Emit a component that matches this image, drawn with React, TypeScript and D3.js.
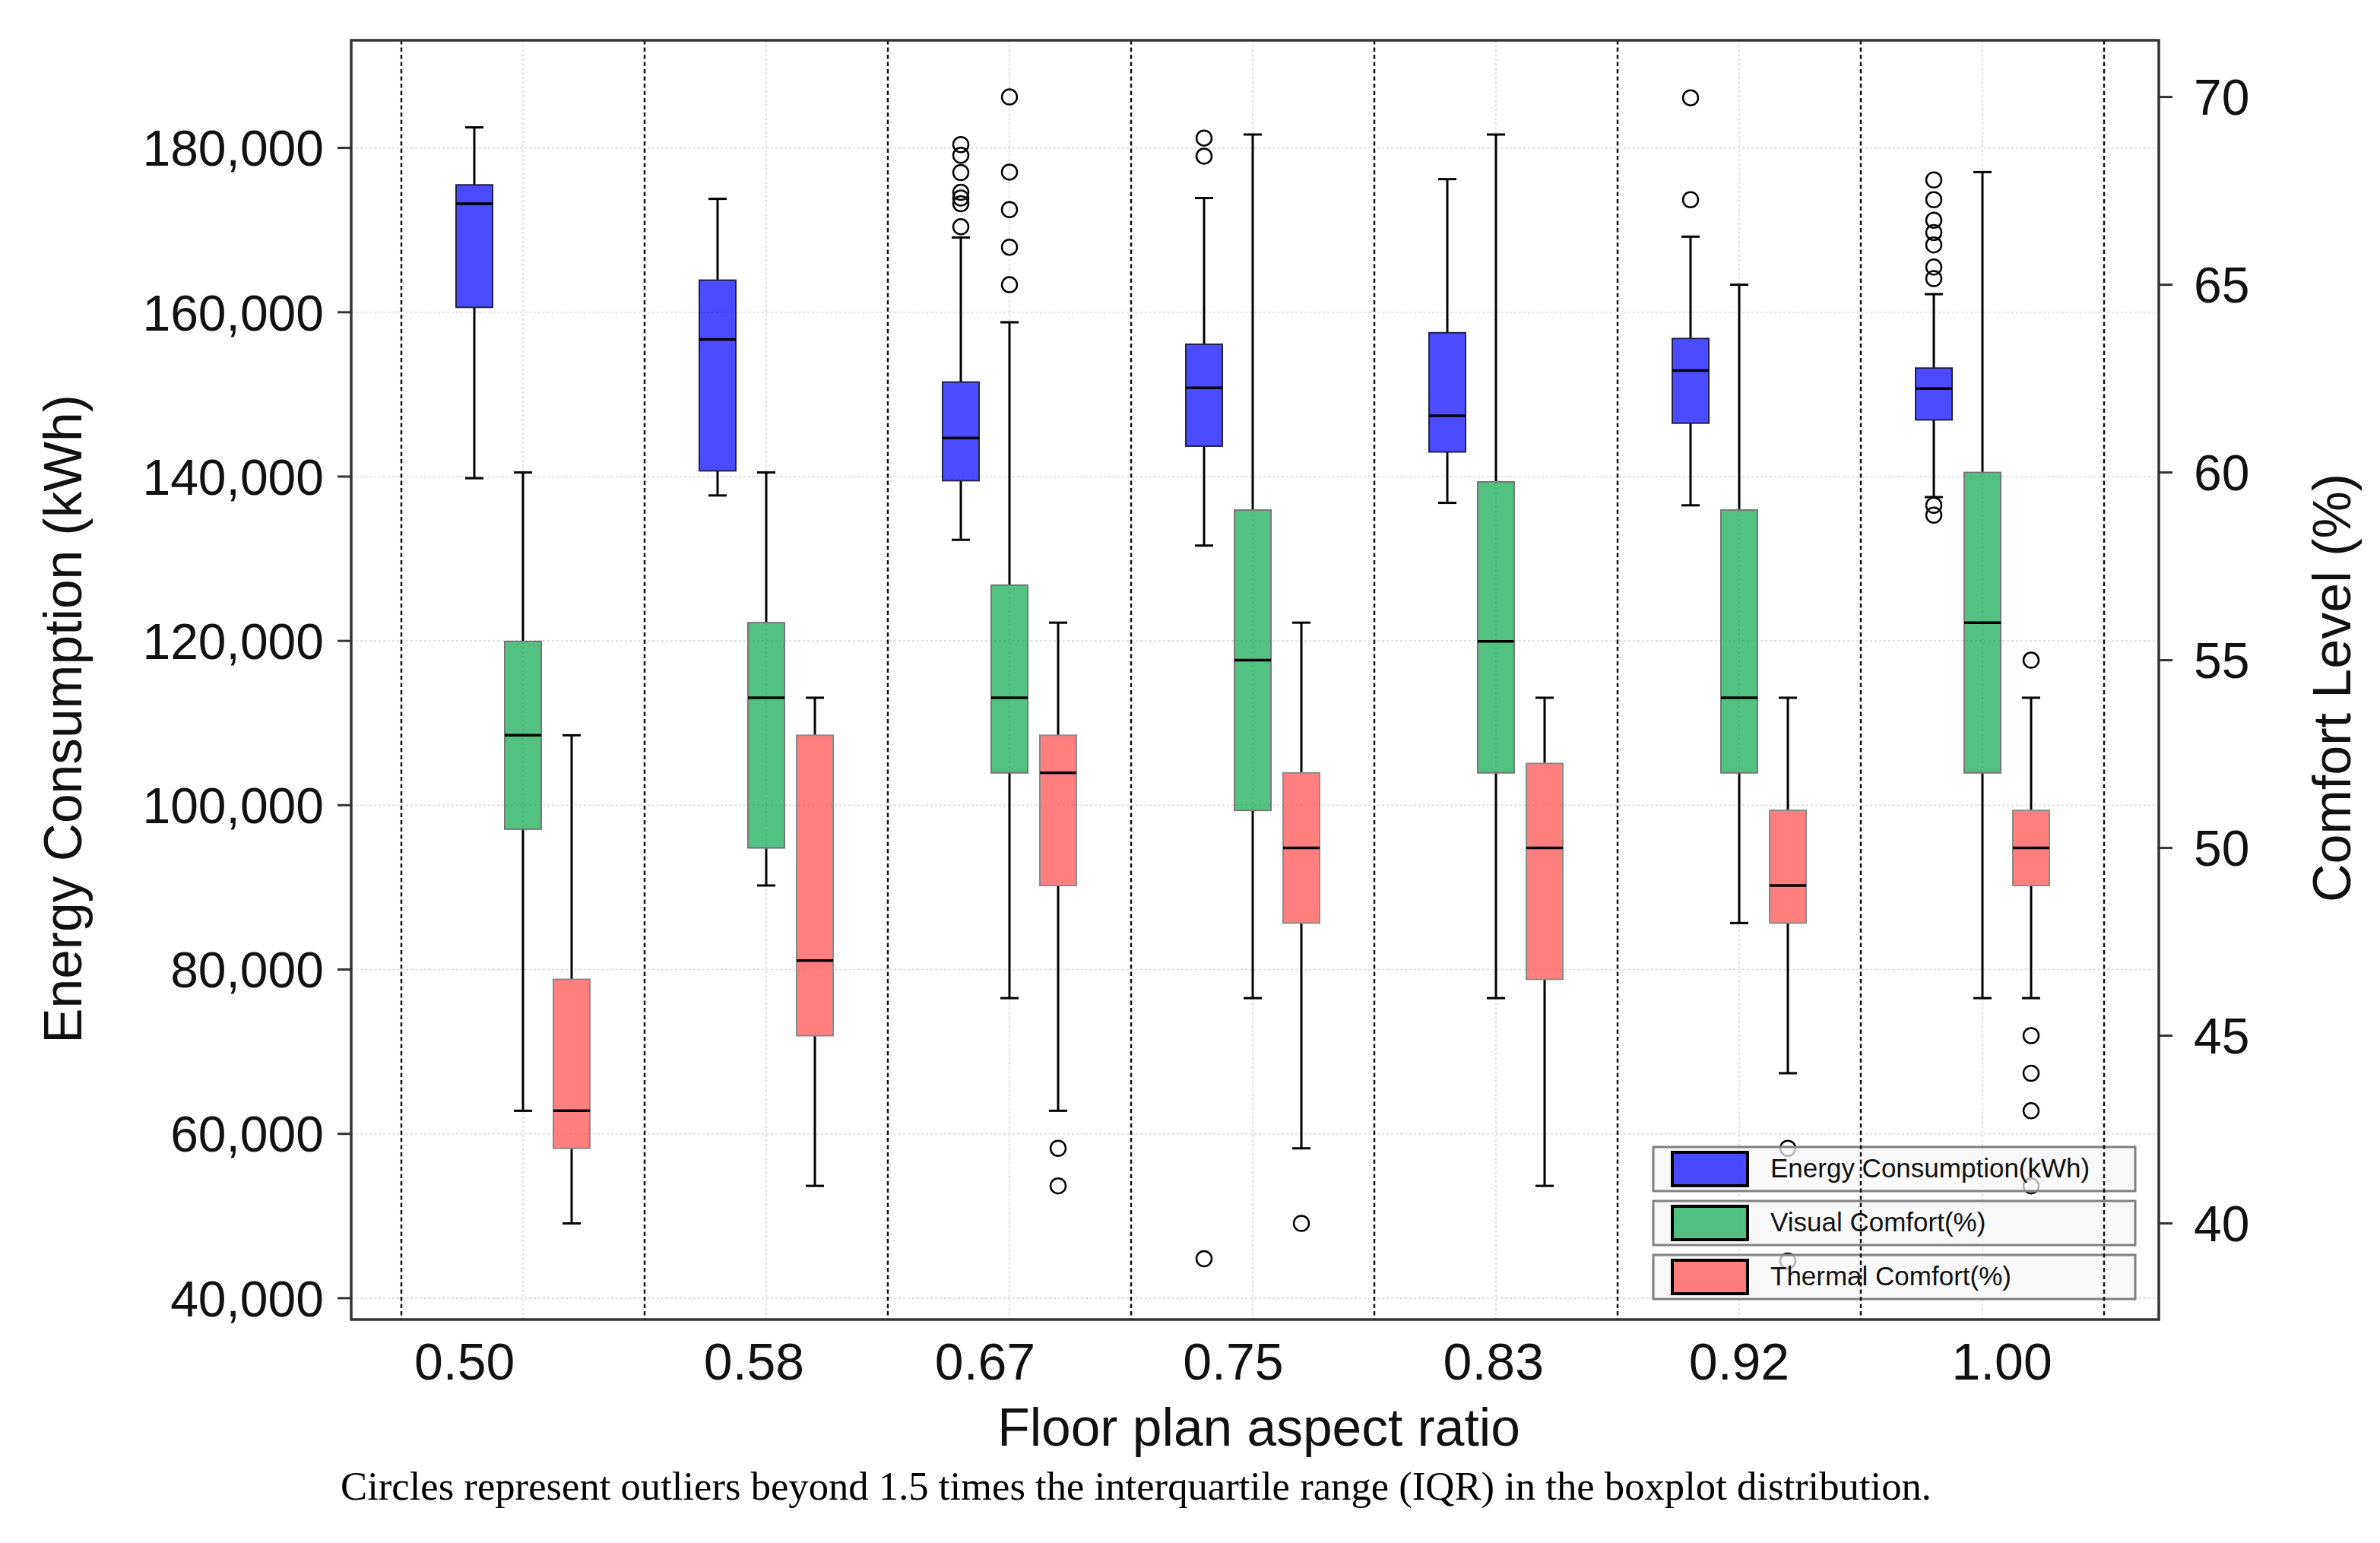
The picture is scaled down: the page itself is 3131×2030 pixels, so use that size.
import React, { useEffect } from 'react';
import * as d3 from 'd3';

// aspect ratios on the x axis
const ratios = ['0.50', '0.58', '0.67', '0.75', '0.83', '0.92', '1.00'];
// the tick labels in the original sit a bit off the group centres (in group units)
const tickLabelShift = [-0.24, -0.05, -0.1, -0.08, -0.01, 0, 0.08];

type Box = { min: number; q1: number; med: number; q3: number; max: number; out: number[] };

// Energy consumption (kWh), left axis
const energy: Box[] = [
  { min: 139800, q1: 160600, med: 173200, q3: 175500, max: 182500, out: [] },
  { min: 137700, q1: 140700, med: 156700, q3: 163900, max: 173800, out: [] },
  { min: 132300, q1: 139500, med: 144700, q3: 151500, max: 169100, out: [170400, 173200, 173900, 174600, 177000, 179100, 180400] },
  { min: 131600, q1: 143700, med: 150800, q3: 156100, max: 173900, out: [44800, 179000, 181200] },
  { min: 136800, q1: 143000, med: 147400, q3: 157500, max: 176200, out: [] },
  { min: 136500, q1: 146500, med: 152900, q3: 156800, max: 169200, out: [173700, 186100] },
  { min: 137500, q1: 146900, med: 150700, q3: 153200, max: 162200, out: [135300, 136500, 164100, 165500, 168200, 169700, 171200, 173700, 176100] },
];

// Visual comfort (%), right axis
const visual: Box[] = [
  { min: 43, q1: 50.5, med: 53, q3: 55.5, max: 60, out: [] },
  { min: 49, q1: 50, med: 54, q3: 56, max: 60, out: [] },
  { min: 46, q1: 52, med: 54, q3: 57, max: 64, out: [65, 66, 67, 68, 70] },
  { min: 46, q1: 51, med: 55, q3: 59, max: 69, out: [] },
  { min: 46, q1: 52, med: 55.5, q3: 59.75, max: 69, out: [] },
  { min: 48, q1: 52, med: 54, q3: 59, max: 65, out: [] },
  { min: 46, q1: 52, med: 56, q3: 60, max: 68, out: [] },
];

// Thermal comfort (%), right axis
const thermal: Box[] = [
  { min: 40, q1: 42, med: 43, q3: 46.5, max: 53, out: [] },
  { min: 41, q1: 45, med: 47, q3: 53, max: 54, out: [] },
  { min: 43, q1: 49, med: 52, q3: 53, max: 56, out: [41, 42] },
  { min: 42, q1: 48, med: 50, q3: 52, max: 56, out: [40] },
  { min: 41, q1: 46.5, med: 50, q3: 52.25, max: 54, out: [] },
  { min: 44, q1: 48, med: 49, q3: 51, max: 54, out: [39, 42] },
  { min: 46, q1: 49, med: 50, q3: 51, max: 54, out: [41, 43, 44, 45, 55] },
];

const energyTicks = [40000, 60000, 80000, 100000, 120000, 140000, 160000, 180000];
const comfortTicks = [40, 45, 50, 55, 60, 65, 70];

const W = 3131;
const H = 2030;
const plot = { left: 462, right: 2840, top: 53, bottom: 1736 };
const sans = '"Liberation Sans", Arial, sans-serif';
const serif = '"Liberation Serif", "Times New Roman", serif';

const App: React.FC = () => {
  useEffect(() => {
    document.body.style.margin = '0';
  }, []);

  const x = d3.scaleLinear().domain([-0.5, 6.5]).range([528, 2768]);
  const yL = d3.scaleLinear().domain([37400, 193100]).range([plot.bottom, plot.top]);
  const yR = d3.scaleLinear().domain([37.44, 71.51]).range([plot.bottom, plot.top]);
  const fmt = d3.format(',');

  const series = [
    { name: 'Energy Consumption(kWh)', data: energy, y: yL, offset: -0.2, fill: '#0000ff', edge: '#22224a' },
    { name: 'Visual Comfort(%)', data: visual, y: yR, offset: 0, fill: '#0aa64a', edge: '#777777' },
    { name: 'Thermal Comfort(%)', data: thermal, y: yR, offset: 0.2, fill: '#ff4848', edge: '#8a8a8a' },
  ];

  const boxW = x(0.15) - x(0);
  const capW = boxW / 2;

  const legend = { x: 2175, y: 1509, w: 634, h: 58, step: 71 };

  return (
    <svg width={W} height={H} style={{ display: 'block', background: '#fff' }}>
      {/* light grid */}
      <g stroke="#d9d9d9" strokeWidth={1.6} strokeDasharray="3,3">
        {energyTicks.map((t) => (
          <line key={t} x1={plot.left} x2={plot.right} y1={yL(t)} y2={yL(t)} />
        ))}
        {ratios.map((r, i) => (
          <line key={r} x1={x(i)} x2={x(i)} y1={plot.top} y2={plot.bottom} />
        ))}
      </g>

      {/* boxes */}
      {series.map((s) => (
        <g key={s.name}>
          {s.data.map((b, i) => {
            const cx = x(i + s.offset);
            const y = s.y;
            return (
              <g key={i}>
                <line x1={cx} x2={cx} y1={y(b.max)} y2={y(b.q3)} stroke="#000" strokeWidth={3} />
                <line x1={cx} x2={cx} y1={y(b.q1)} y2={y(b.min)} stroke="#000" strokeWidth={3} />
                <line x1={cx - capW / 2} x2={cx + capW / 2} y1={y(b.max)} y2={y(b.max)} stroke="#000" strokeWidth={3} />
                <line x1={cx - capW / 2} x2={cx + capW / 2} y1={y(b.min)} y2={y(b.min)} stroke="#000" strokeWidth={3} />
                <rect
                  x={cx - boxW / 2}
                  y={y(b.q3)}
                  width={boxW}
                  height={y(b.q1) - y(b.q3)}
                  fill={s.fill}
                  fillOpacity={0.7}
                  stroke={s.edge}
                  strokeWidth={2}
                />
                <line x1={cx - boxW / 2} x2={cx + boxW / 2} y1={y(b.med)} y2={y(b.med)} stroke="#000" strokeWidth={3.5} />
                {b.out.map((o, k) => (
                  <circle key={k} cx={cx} cy={y(o)} r={10} fill="none" stroke="#000" strokeWidth={2.5} />
                ))}
              </g>
            );
          })}
        </g>
      ))}

      {/* legend, one framed row per series */}
      {series.map((s, i) => {
        const ly = legend.y + i * legend.step;
        return (
          <g key={s.name}>
            <rect x={legend.x} y={ly} width={legend.w} height={legend.h} fill="#f6f6f6" fillOpacity={0.72} stroke="#808080" strokeWidth={3} />
            <rect x={legend.x + 25} y={ly + 7} width={99} height={44} fill={s.fill} fillOpacity={0.7} stroke="#000" strokeWidth={4} />
            <text x={legend.x + 154} y={ly + 40} fontFamily={sans} fontSize={35} fill="#111">
              {s.name}
            </text>
          </g>
        );
      })}

      {/* group separators */}
      <g stroke="#111" strokeWidth={2.5} strokeDasharray="5.5,4">
        {d3.range(ratios.length + 1).map((k) => (
          <line key={k} x1={x(k - 0.5)} x2={x(k - 0.5)} y1={plot.top} y2={plot.bottom} />
        ))}
      </g>

      {/* frame */}
      <rect x={plot.left} y={plot.top} width={plot.right - plot.left} height={plot.bottom - plot.top} fill="none" stroke="#333" strokeWidth={3.5} />

      {/* left axis */}
      <g fontFamily={sans} fontSize={66} fill="#111">
        {energyTicks.map((t) => (
          <g key={t}>
            <line x1={plot.left - 18} x2={plot.left} y1={yL(t)} y2={yL(t)} stroke="#333" strokeWidth={3} />
            <text x={plot.left - 36} y={yL(t)} dy="0.36em" textAnchor="end">
              {fmt(t)}
            </text>
          </g>
        ))}
      </g>

      {/* right axis */}
      <g fontFamily={sans} fontSize={66} fill="#111">
        {comfortTicks.map((t) => (
          <g key={t}>
            <line x1={plot.right} x2={plot.right + 18} y1={yR(t)} y2={yR(t)} stroke="#333" strokeWidth={3} />
            <text x={plot.right + 46} y={yR(t)} dy="0.36em" textAnchor="start">
              {t}
            </text>
          </g>
        ))}
      </g>

      {/* x tick labels */}
      <g fontFamily={sans} fontSize={68} fill="#111" textAnchor="middle">
        {ratios.map((r, i) => (
          <text key={r} x={x(i + tickLabelShift[i])} y={1815}>
            {r}
          </text>
        ))}
      </g>

      {/* axis titles */}
      <text x={1656} y={1902} fontFamily={sans} fontSize={69.5} textAnchor="middle" fill="#111">
        Floor plan aspect ratio
      </text>
      <text transform="translate(107,946) rotate(-90)" fontFamily={sans} fontSize={69.5} textAnchor="middle" fill="#111">
        Energy Consumption (kWh)
      </text>
      <text transform="translate(3092,905) rotate(-90)" fontFamily={sans} fontSize={70} textAnchor="middle" fill="#111">
        Comfort Level (%)
      </text>

      {/* caption */}
      <text x={448} y={1973} fontFamily={serif} fontSize={52} textLength={2093} lengthAdjust="spacingAndGlyphs" fill="#000">
        Circles represent outliers beyond 1.5 times the interquartile range (IQR) in the boxplot distribution.
      </text>
    </svg>
  );
};

export default App;
